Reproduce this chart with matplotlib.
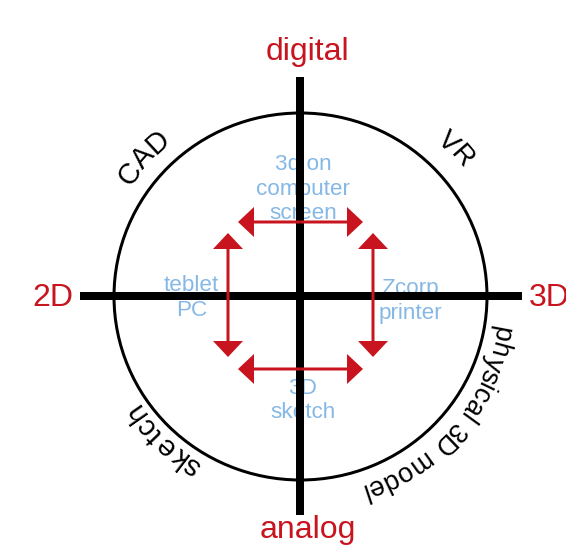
import numpy as np
import matplotlib
matplotlib.use('Agg')
import matplotlib.pyplot as plt
from matplotlib.patches import Ellipse
from matplotlib.font_manager import FontProperties, findfont
from matplotlib.ft2font import FT2Font

# Axis end labels
axis_labels = ['digital', 'analog', '2D', '3D']
# Labels round the circle (clockwise arc text)
outer_labels = ['CAD', 'VR', 'physical 3D model', 'sketch']
# Labels inside the quadrants
inner_labels = ['3d on\ncomputer\nscreen', 'teblet\nPC', 'Zcorp\nprinter', '3D\nsketch']

RED = '#c8141e'
BLUE = '#86b8e6'
FAMILY = 'Liberation Sans'
PX = 0.72  # points per pixel at dpi 100

cx, cy = 300.5, 296.5

font = FT2Font(findfont(FontProperties(family=FAMILY)))


def advance(ch, size_px):
    font.set_size(size_px, 72)
    g = font.load_char(ord(ch))
    return g.linearHoriAdvance / 65536


def arc_text(ax, text, r, theta_mid, size_px, track=0.0):
    widths = [advance(c, size_px) for c in text]
    total = sum(widths) + track * (len(text) - 1)
    s = -total / 2
    for c, w in zip(text, widths):
        mid = s + w / 2
        th = np.radians(theta_mid) - mid / r
        x = cx + r * np.cos(th)
        y = cy - r * np.sin(th)
        ax.text(x, y, c, rotation=np.degrees(th) - 90, ha='center', va='baseline',
                rotation_mode='anchor', fontsize=size_px * PX, family=FAMILY,
                color='black', zorder=5)
        s += w + track


fig = plt.figure(figsize=(5.66, 5.45), dpi=100)
ax = fig.add_axes([0, 0, 1, 1])
ax.set_xlim(0, 566)
ax.set_ylim(545, 0)
ax.axis('off')

# circle and cross
ax.add_patch(Ellipse((cx, cy), 373, 367, fill=False, lw=3 * PX, ec='black', zorder=2))
ax.plot([300, 300], [77, 515], color='black', lw=8 * PX, solid_capstyle='butt', zorder=2)
ax.plot([80, 522], [296, 296], color='black', lw=8 * PX, solid_capstyle='butt', zorder=2)

# axis end labels
axis_pos = [(307.5, 60, 'center'), (308, 538, 'center'), (52.5, 306, 'center'), (529, 306, 'left')]
for lab, (x, y, ha) in zip(axis_labels, axis_pos):
    ax.text(x, y, lab, color=RED, fontsize=32 * PX, family=FAMILY, ha=ha, va='baseline', zorder=5)

# outer arc labels: radius, mid angle, size, tracking
outer_pos = [(202, 138.5, 29, 0.0), (206, 43.5, 28, 0.0), (197, -40.5, 27, 0.0), (193, 226, 29, 1.5)]
for lab, (r, th, sz, tr) in zip(outer_labels, outer_pos):
    arc_text(ax, lab, r, th, sz, tr)

# inner labels (first baseline, x centre)
inner_pos = [(303, 170), (191.5, 291), (410.5, 294), (303, 394)]
for lab, (x, y0) in zip(inner_labels, inner_pos):
    for i, line in enumerate(lab.split('\n')):
        ax.text(x, y0 + 24.5 * i, line, color=BLUE, fontsize=22.5 * PX, family=FAMILY,
                ha='center', va='baseline', zorder=1)

# red double-headed arrows: (x0, y0, x1, y1)
arrows = [(238, 222, 363, 222), (238, 369, 363, 369), (228, 233, 228, 357), (373, 233, 373, 357)]
for x0, y0, x1, y1 in arrows:
    mx, my = (x0 + x1) / 2, (y0 + y1) / 2
    for ex, ey in [(x0, y0), (x1, y1)]:
        ax.arrow(mx, my, ex - mx, ey - my, width=3, head_width=30, head_length=16,
                 length_includes_head=True, fc=RED, ec='none', zorder=3)

fig.savefig('out.png', dpi=100)
